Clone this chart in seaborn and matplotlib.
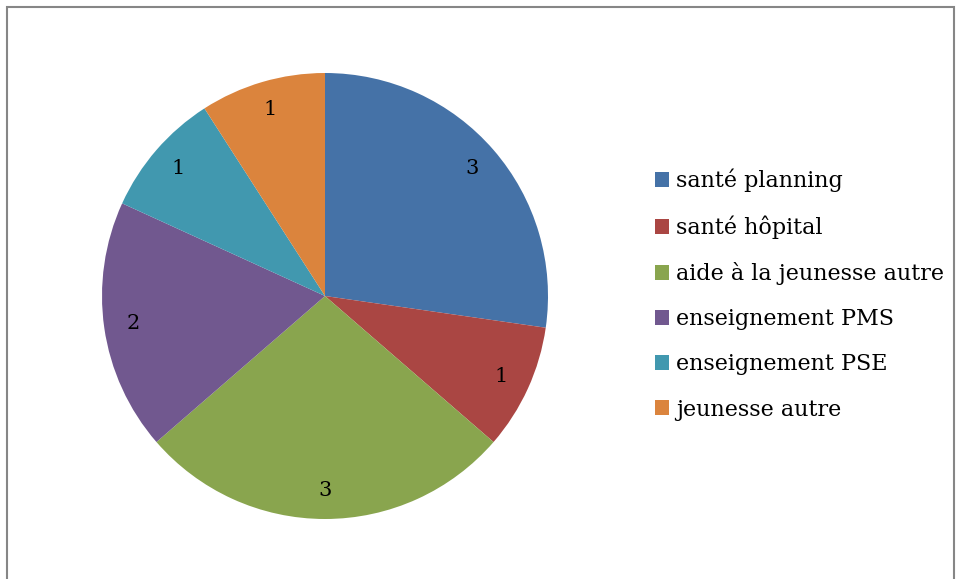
import matplotlib
matplotlib.use("Agg")
import matplotlib.pyplot as plt
import seaborn as sns
from matplotlib.patches import Rectangle

# -------------------------------
# Data
# -------------------------------

categories = [
    "santé planning",
    "santé hôpital",
    "aide à la jeunesse autre",
    "enseignement PMS",
    "enseignement PSE",
    "jeunesse autre",
]
values = [3, 1, 3, 2, 1, 1]
colors = ["#4572A7", "#AA4643", "#89A54E", "#71588F", "#4198AF", "#DB843D"]

# -------------------------------
# Style
# -------------------------------

sns.set_theme(style="white")
plt.rcParams['font.family'] = ['DejaVu Serif']

palette = sns.color_palette(colors)

W, H = 957, 579
fig = plt.figure(figsize=(W / 100, H / 100), dpi=100)
ax = fig.add_axes([0, 0, 1, 1])

wedges, texts = ax.pie(
    values,
    colors=palette,
    startangle=90,
    counterclock=False,
    center=(325, H - 296),
    radius=223,
    labels=[str(v) for v in values],
    labeldistance=0.87,
    frame=True,
    wedgeprops=dict(linewidth=0),
    textprops=dict(fontsize=15, color="black"),
)
for t in texts:
    t.set_horizontalalignment("center")
    t.set_verticalalignment("center")

ax.set_xlim(0, W)
ax.set_ylim(0, H)
ax.set_aspect("equal")
ax.axis("off")

# Legend
fig.legend(
    wedges,
    categories,
    loc="upper left",
    bbox_to_anchor=(655 / W, 1 - 169 / H),
    frameon=False,
    fontsize=16,
    labelcolor="black",
    handlelength=0.64,
    handleheight=0.64,
    handletextpad=0.3,
    labelspacing=1.04,
    borderaxespad=0,
    borderpad=0,
)

# Chart border
fig.patches.append(Rectangle(
    (7 / W, -0.05), (954 - 7) / W, 1.05 - 7 / H,
    transform=fig.transFigure, fill=False,
    edgecolor="#868686", linewidth=1.5, clip_on=False,
))

fig.savefig("out.png", dpi=100, facecolor="white")
